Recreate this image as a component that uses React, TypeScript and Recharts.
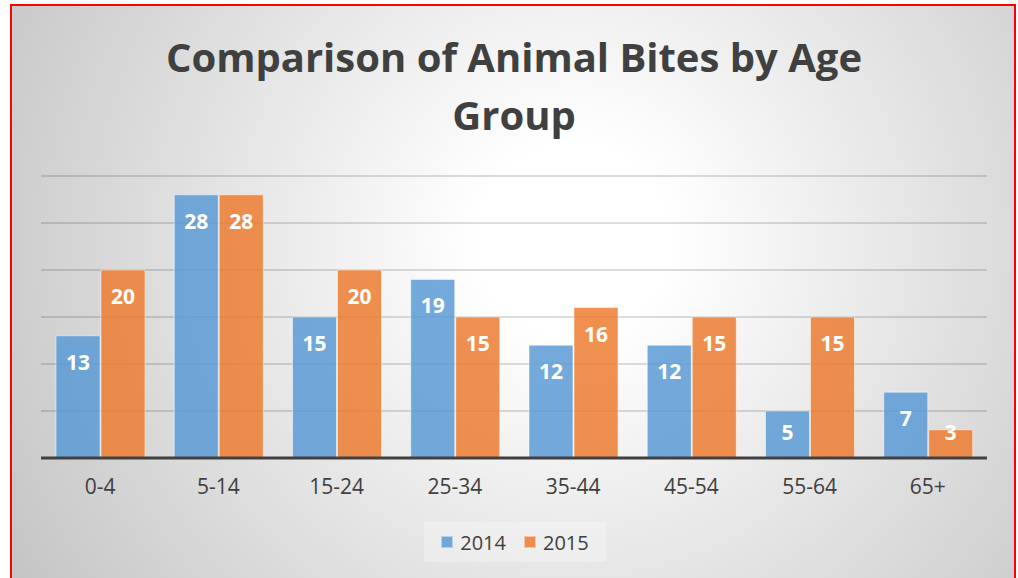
import { Bar, BarChart, CartesianGrid, LabelList, Legend, XAxis, YAxis } from "recharts"

const ageGroups = ["0-4", "5-14", "15-24", "25-34", "35-44", "45-54", "55-64", "65+"]
const bites2014 = [13, 28, 15, 19, 12, 12, 5, 7]
const bites2015 = [20, 28, 20, 15, 16, 15, 15, 3]
const yTicks = [0, 5, 10, 15, 20, 25, 30]

const BLUE = "#5B9BD5"
const ORANGE = "#ED7D31"
const FONT = "'Open Sans', 'Noto Sans', sans-serif"

// Excel puts "inside end" labels in a box at the top of the bar,
// pushed down to the baseline when the bar is shorter than the box
function ValueLabel(props: any) {
  const { x, y, width, height, value } = props
  const cy = Math.min(y + 26, y + height - 26)
  return (
    <text
      x={x + width / 2}
      y={cy}
      textAnchor="middle"
      dominantBaseline="central"
      fill="#ffffff"
      fontFamily={FONT}
      fontWeight={700}
      fontSize={21}
    >
      {value}
    </text>
  )
}

function LegendBox() {
  const items = [
    { name: "2014", color: BLUE },
    { name: "2015", color: ORANGE },
  ]
  return (
    <div
      style={{
        display: "flex",
        justifyContent: "center",
        alignItems: "center",
        height: 40,
        background: "rgba(255,255,255,0.25)",
        fontFamily: FONT,
        fontSize: 20,
        color: "#404040",
      }}
    >
      {items.map((it) => (
        <div key={it.name} style={{ display: "flex", alignItems: "center", margin: "0 9px" }}>
          <span
            style={{
              display: "inline-block",
              width: 12,
              height: 12,
              background: it.color,
              opacity: 0.85,
              marginRight: 7,
              boxSizing: "border-box",
              border: "1px solid rgba(255,255,255,0.5)",
            }}
          />
          {it.name}
        </div>
      ))}
    </div>
  )
}

export default function App() {
  const data = ageGroups.map((g, i) => ({ group: g, y2014: bites2014[i], y2015: bites2015[i] }))

  return (
    <div
      style={{
        position: "absolute",
        left: 0,
        top: 0,
        width: 1018,
        height: 578,
        overflow: "hidden",
        background: "#ffffff",
      }}
    >
      <div
        style={{
          position: "absolute",
          left: 10,
          top: 4,
          width: 1006,
          height: 620,
          boxSizing: "border-box",
          border: "2px solid #ff0000",
          background: "radial-gradient(circle at 56% 38%, #ffffff 0%, #ffffff 14%, #c2c2c2 100%)",
        }}
      />
      <div
        style={{
          position: "absolute",
          left: 0,
          top: 28,
          width: 1028,
          textAlign: "center",
          fontFamily: FONT,
          fontWeight: 700,
          fontSize: 40,
          lineHeight: "58px",
          color: "#404040",
        }}
      >
        Comparison of Animal Bites by Age
        <br />
        Group
      </div>
      <div style={{ position: "absolute", left: 0, top: 0 }}>
        <BarChart
          width={1018}
          height={578}
          data={data}
          margin={{ top: 176, right: 31, bottom: 60, left: 41 }}
          barCategoryGap={15}
          barGap={1}
        >
          <CartesianGrid vertical={false} stroke="rgba(0,0,0,0.18)" strokeWidth={1.5} />
          <YAxis hide domain={[0, 30]} ticks={yTicks} />
          <XAxis
            dataKey="group"
            height={60}
            axisLine={{ stroke: "#404040", strokeWidth: 3 }}
            tickLine={false}
            tickMargin={15}
            tick={{ fill: "#404040", fontSize: 21, fontFamily: FONT }}
          />
          <Legend
            layout="horizontal"
            verticalAlign="middle"
            align="center"
            wrapperStyle={{ top: 522, left: 424, width: 182, height: 40 }}
            content={() => <LegendBox />}
          />
          <Bar
            dataKey="y2014"
            name="2014"
            fill={BLUE}
            fillOpacity={0.85}
            stroke="#ffffff"
            strokeOpacity={0.5}
            isAnimationActive={false}
          >
            <LabelList dataKey="y2014" content={ValueLabel} />
          </Bar>
          <Bar
            dataKey="y2015"
            name="2015"
            fill={ORANGE}
            fillOpacity={0.85}
            stroke="#ffffff"
            strokeOpacity={0.5}
            isAnimationActive={false}
          >
            <LabelList dataKey="y2015" content={ValueLabel} />
          </Bar>
        </BarChart>
      </div>
    </div>
  )
}
